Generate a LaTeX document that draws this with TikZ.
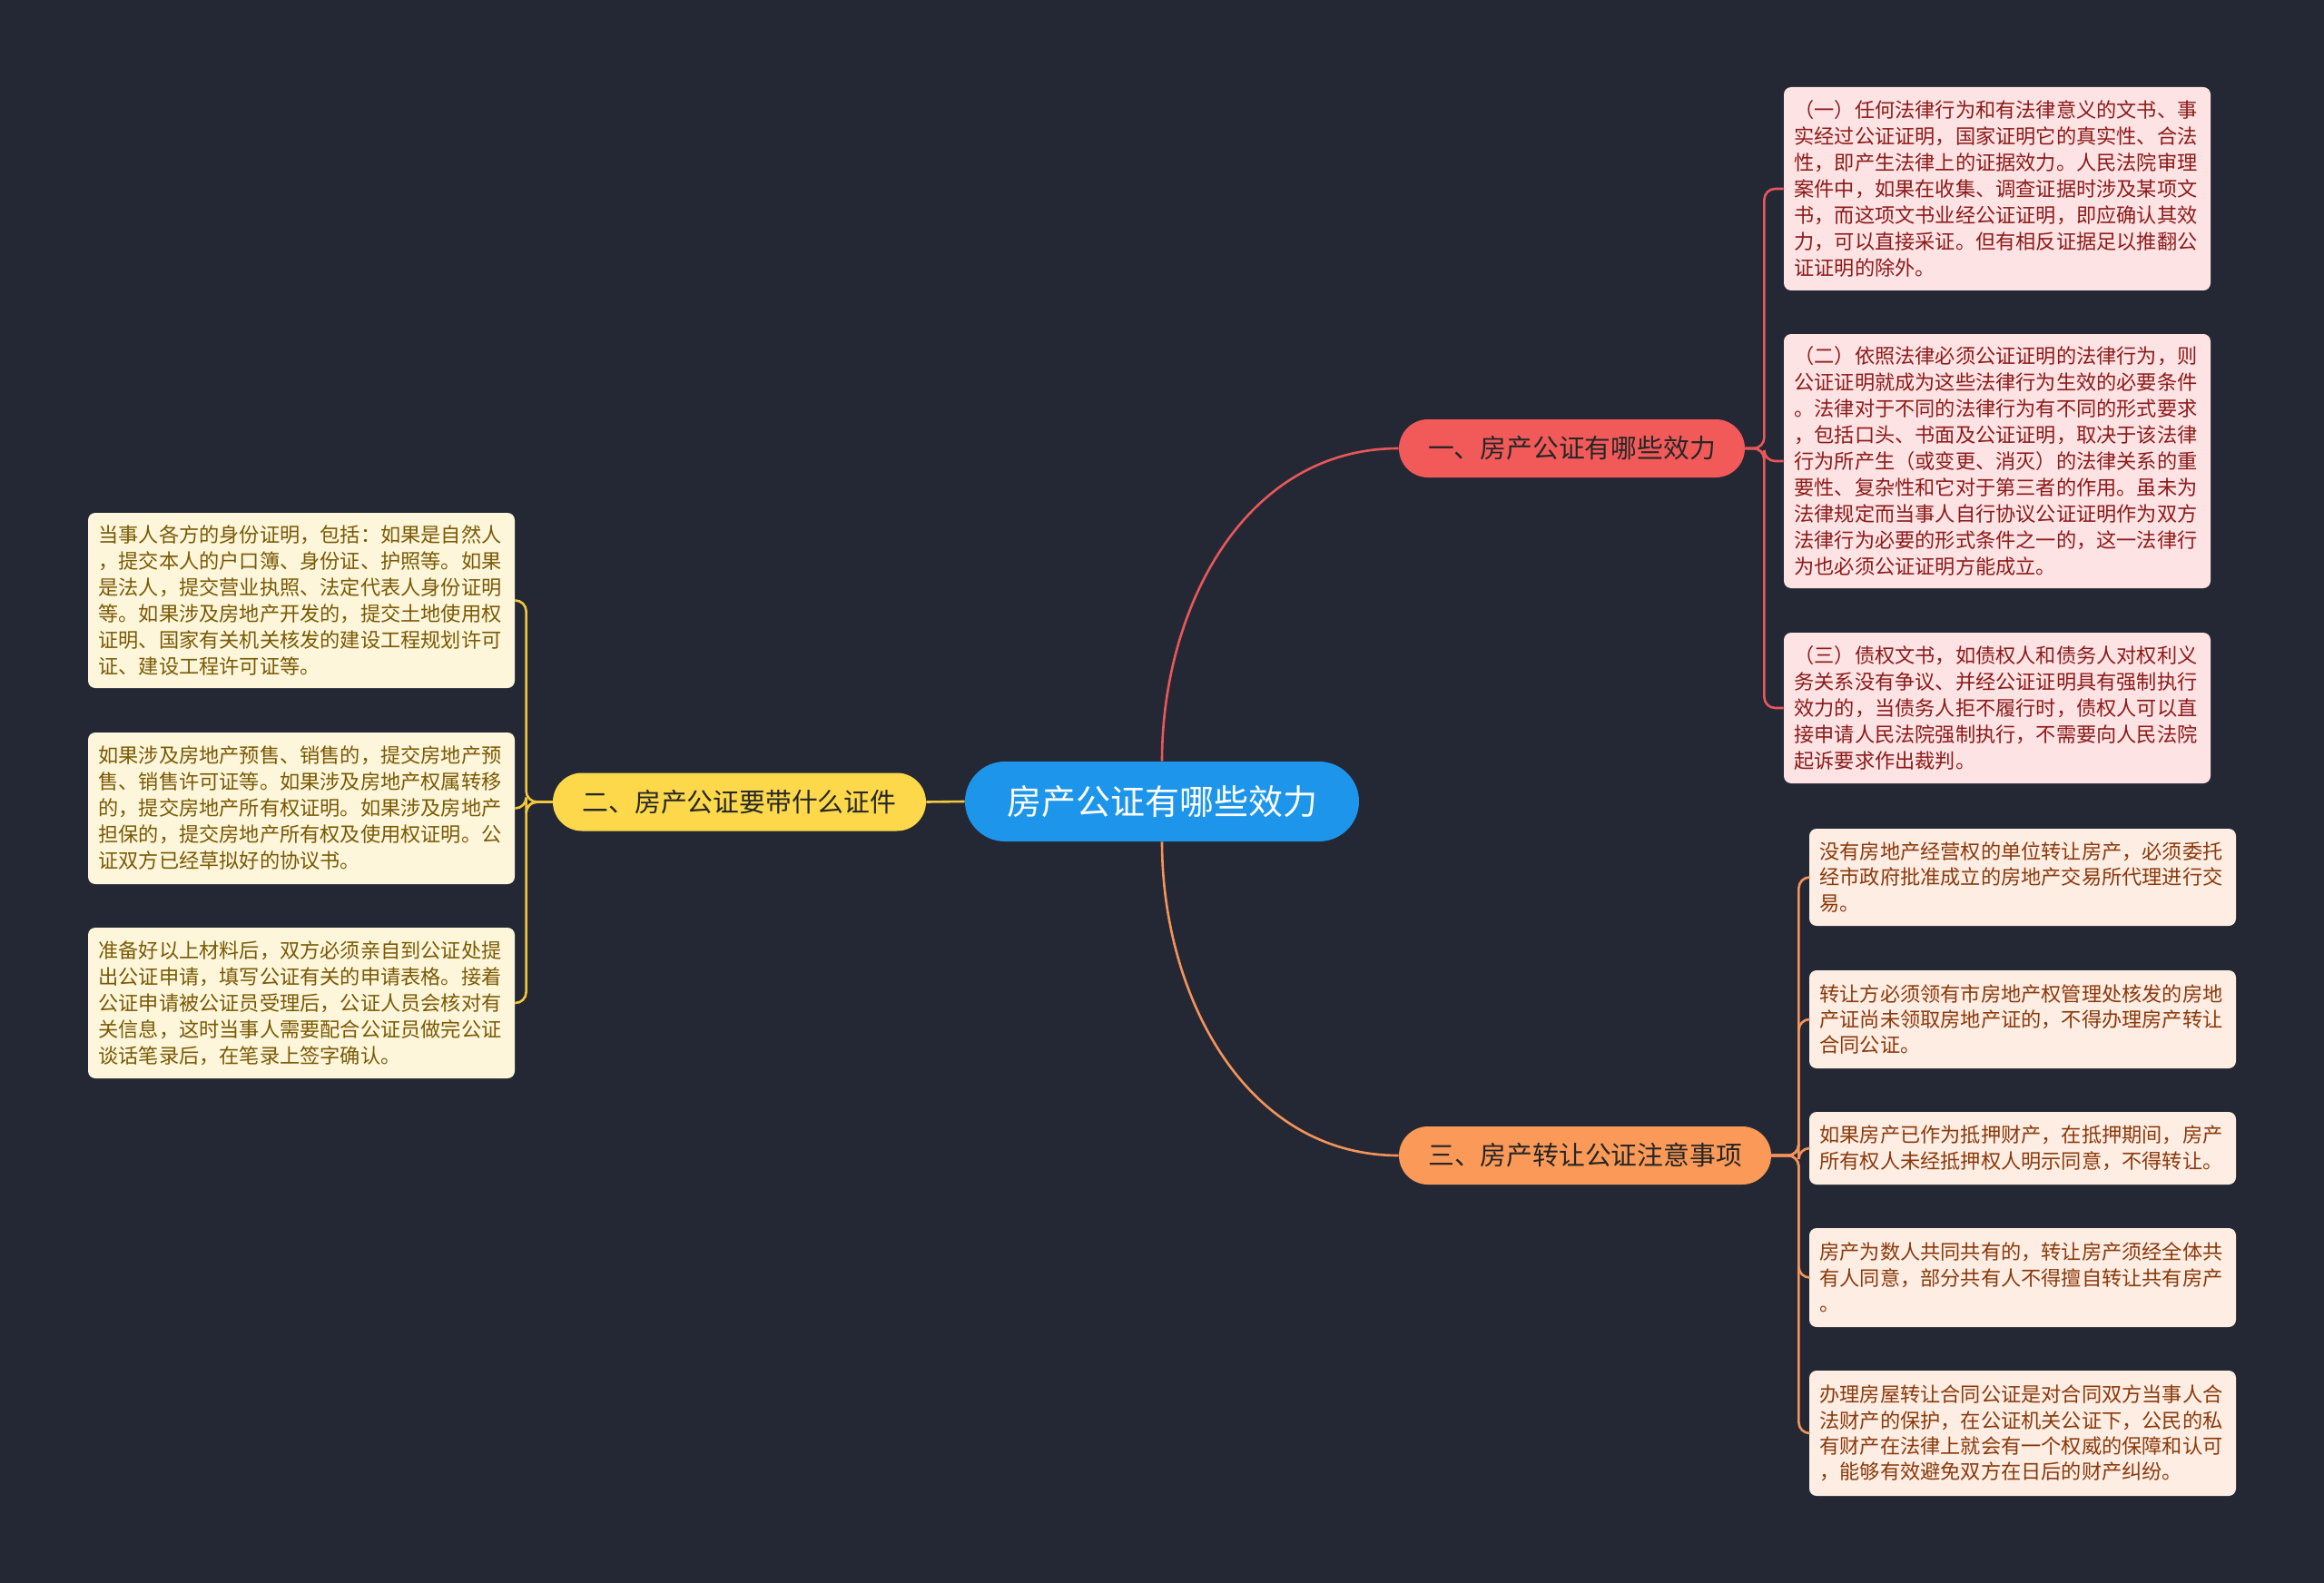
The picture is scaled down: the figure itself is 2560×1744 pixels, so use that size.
\documentclass[tikz,border=0pt]{standalone}
\usepackage{fontspec}
\newfontfamily\cjk{Noto Sans CJK SC}
\usetikzlibrary{positioning}
\definecolor{bgdark}{HTML}{242834}
\definecolor{rootblue}{HTML}{1C95EA}
\definecolor{redmain}{HTML}{F25A5A}
\definecolor{yellowmain}{HTML}{FCD84A}
\definecolor{orangemain}{HTML}{FB9A58}
\definecolor{redleaf}{HTML}{FDE3E3}
\definecolor{redtext}{HTML}{8C1B1B}
\definecolor{yellowleaf}{HTML}{FDF6DB}
\definecolor{yellowtext}{HTML}{7A5A05}
\definecolor{orangeleaf}{HTML}{FDEDE3}
\definecolor{orangetext}{HTML}{8A3A0C}
\definecolor{branchtext}{HTML}{262626}
\definecolor{redline}{HTML}{E8575A}
\definecolor{yellowline}{HTML}{F2C73E}
\definecolor{orangeline}{HTML}{F4935A}
\tikzset{
    root/.style={rectangle, rounded corners=22pt, fill=rootblue, text=white,
        minimum width=217pt, minimum height=44pt, font=\cjk\fontsize{19}{22}\selectfont},
    branch/.style={rectangle, rounded corners=16pt, text=branchtext,
        minimum height=32pt, font=\cjk\fontsize{14.4}{17}\selectfont},
    leaf/.style={rectangle, rounded corners=4pt, align=left, text width=223.5pt,
        inner xsep=5.75pt, font=\cjk\fontsize{11.1}{14.5}\selectfont},
    redleafbox/.style={leaf, fill=redleaf, text=redtext},
    yellowleafbox/.style={leaf, fill=yellowleaf, text=yellowtext},
    orangeleafbox/.style={leaf, fill=orangeleaf, text=orangetext, font=\cjk\fontsize{11.1}{14.2}\selectfont},
    link/.style={line width=1.3pt, rounded corners=6pt}
}

\begin{document}
\begin{tikzpicture}[x=0.5pt, y=-0.5pt]
    \fill[bgdark] (0,0) rectangle (2560,1744);
    \useasboundingbox (0,0) rectangle (2560,1744);

    \node[root] (root) at (1280,883) {房产公证有哪些效力};

    \node[branch, fill=redmain, minimum width=190.5pt] (effect) at (1731.5,494) {一、房产公证有哪些效力};
    \node[branch, fill=yellowmain, minimum width=205.5pt] (papers) at (814.5,883.5) {二、房产公证要带什么证件};
    \node[branch, fill=orangemain, minimum width=205pt] (transfer) at (1746,1273) {三、房产转让公证注意事项};

    % effect
    \node[redleafbox, minimum height=112pt] (effA) at (2200,208) {（一）任何法律行为和有法律意义的文书、事\\实经过公证证明，国家证明它的真实性、合法\\性，即产生法律上的证据效力。人民法院审理\\案件中，如果在收集、调查证据时涉及某项文\\书，而这项文书业经公证证明，即应确认其效\\力，可以直接采证。但有相反证据足以推翻公\\证证明的除外。};
    \node[redleafbox, minimum height=140pt] (effB) at (2200,508) {（二）依照法律必须公证证明的法律行为，则\\公证证明就成为这些法律行为生效的必要条件\\。法律对于不同的法律行为有不同的形式要求\\，包括口头、书面及公证证明，取决于该法律\\行为所产生（或变更、消灭）的法律关系的重\\要性、复杂性和它对于第三者的作用。虽未为\\法律规定而当事人自行协议公证证明作为双方\\法律行为必要的形式条件之一的，这一法律行\\为也必须公证证明方能成立。};
    \node[redleafbox, minimum height=83pt] (effC) at (2200,780) {（三）债权文书，如债权人和债务人对权利义\\务关系没有争议、并经公证证明具有强制执行\\效力的，当债务人拒不履行时，债权人可以直\\接申请人民法院强制执行，不需要向人民法院\\起诉要求作出裁判。};

    % papers
    \node[yellowleafbox, minimum height=96.5pt] (papA) at (332,661.5) {当事人各方的身份证明，包括：如果是自然人\\，提交本人的户口簿、身份证、护照等。如果\\是法人，提交营业执照、法定代表人身份证明\\等。如果涉及房地产开发的，提交土地使用权\\证明、国家有关机关核发的建设工程规划许可\\证、建设工程许可证等。};
    \node[yellowleafbox, minimum height=83.5pt] (papB) at (332,890.5) {如果涉及房地产预售、销售的，提交房地产预\\售、销售许可证等。如果涉及房地产权属转移\\的，提交房地产所有权证明。如果涉及房地产\\担保的，提交房地产所有权及使用权证明。公\\证双方已经草拟好的协议书。};
    \node[yellowleafbox, minimum height=83pt] (papC) at (332,1105) {准备好以上材料后，双方必须亲自到公证处提\\出公证申请，填写公证有关的申请表格。接着\\公证申请被公证员受理后，公证人员会核对有\\关信息，这时当事人需要配合公证员做完公证\\谈话笔录后，在笔录上签字确认。};

    % transfer
    \node[orangeleafbox, minimum height=53.5pt] (traA) at (2228,966.5) {没有房地产经营权的单位转让房产，必须委托\\经市政府批准成立的房地产交易所代理进行交\\易。};
    \node[orangeleafbox, minimum height=54pt] (traB) at (2228,1123) {转让方必须领有市房地产权管理处核发的房地\\产证尚未领取房地产证的，不得办理房产转让\\合同公证。};
    \node[orangeleafbox, minimum height=40pt] (traC) at (2228,1265) {如果房产已作为抵押财产，在抵押期间，房产\\所有权人未经抵押权人明示同意，不得转让。};
    \node[orangeleafbox, minimum height=54.5pt] (traD) at (2228,1407.5) {房产为数人共同共有的，转让房产须经全体共\\有人同意，部分共有人不得擅自转让共有房产\\。};
    \node[orangeleafbox, minimum height=69pt] (traE) at (2228,1579) {办理房屋转让合同公证是对合同双方当事人合\\法财产的保护，在公证机关公证下，公民的私\\有财产在法律上就会有一个权威的保障和认可\\，能够有效避免双方在日后的财产纠纷。};

    % connectors
    \draw[link, redline] (root.north) to[out=90, in=180] (effect.west);
    \draw[link, orangeline] (root.south) to[out=-90, in=180] (transfer.west);
    \draw[link, yellowline] (root.west) -- (papers.east);

    \foreach \leaf in {effA, effB, effC}
        \draw[link, redline] (effect.east) -- ++(21,0) |- (\leaf.west);
    \foreach \leaf in {papA, papB, papC}
        \draw[link, yellowline] (papers.west) -- ++(-29,0) |- (\leaf.east);
    \foreach \leaf in {traA, traB, traC, traD, traE}
        \draw[link, orangeline] (transfer.east) -- ++(30,0) |- (\leaf.west);
\end{tikzpicture}
\end{document}
